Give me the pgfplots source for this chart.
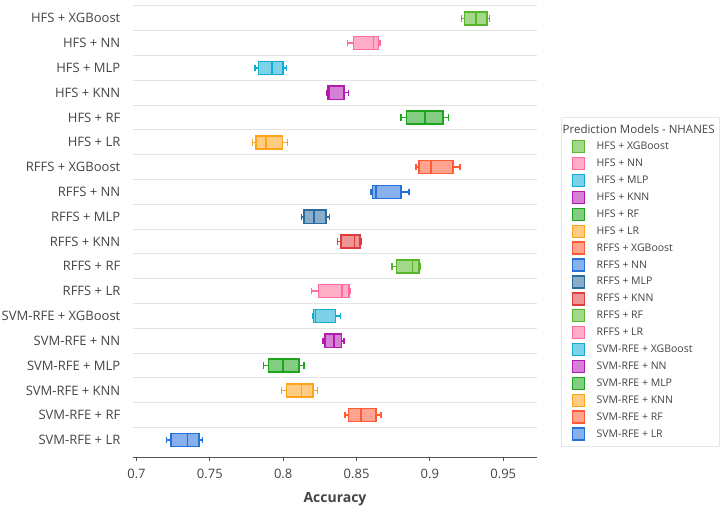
\documentclass[border=0pt]{standalone}
\usepackage{pgfplots}
\pgfplotsset{compat=1.18}
\usepgfplotslibrary{statistics}
\usepackage{fontspec}
\setmainfont{Open Sans}
\definecolor{txt}{HTML}{444444}
\definecolor{axisc}{HTML}{555555}
\definecolor{gridc}{HTML}{E3E3E3}
\definecolor{legc}{HTML}{E6E6E6}
\definecolor{c1}{HTML}{57B728}
\definecolor{c2}{HTML}{FF6B9A}
\definecolor{c3}{HTML}{13ADD4}
\definecolor{c4}{HTML}{B21AB0}
\definecolor{c5}{HTML}{1DA51D}
\definecolor{c6}{HTML}{FFA31A}
\definecolor{c7}{HTML}{FF5A33}
\definecolor{c8}{HTML}{2670DA}
\definecolor{c9}{HTML}{2A6C9C}
\definecolor{c10}{HTML}{DE3D3F}
\pgfplotsset{
  bx/.style={draw=#1, fill=#1!55, line width=1.5pt, forget plot, solid},
  sq/.style={legend image code/.code={\path (-6pt,0pt); \draw[line width=1.4pt, draw=#1, fill=#1!55] (0pt,-6pt) rectangle (12pt,6pt);}},
}
\begin{document}
\begin{tikzpicture}
\path[use as bounding box] (-133pt,-52.3pt) rectangle (591pt,457.7pt);
\begin{axis}[
  at={(0pt,0pt)}, anchor=south west,
  scale only axis, width=404pt, height=457.7pt,
  xmin=0.6976, xmax=0.9730, ymin=-0.715, ymax=17.74,
  axis x line*=bottom, axis y line*=left,
  y axis line style={draw=none},
  x axis line style={draw=axisc, line width=1pt},
  /pgf/number format/assume math mode=true,
  xtick={0.7,0.75,0.8,0.85,0.9,0.95},
  xticklabels={0.7,0.75,0.8,0.85,0.9,0.95},
  tick align=outside,
  xtick style={draw=axisc, line width=1pt},
  major tick length=3.5pt,
  ytick={0,...,17},
  yticklabels={SVM-RFE + LR, SVM-RFE + RF, SVM-RFE + KNN, SVM-RFE + MLP, SVM-RFE + NN, SVM-RFE + XGBoost, RFFS + LR, RFFS + RF, RFFS + KNN, RFFS + MLP, RFFS + NN, RFFS + XGBoost, HFS + LR, HFS + RF, HFS + KNN, HFS + MLP, HFS + NN, HFS + XGBoost},
  ytick style={draw=none},
  minor ytick={0.5,1.5,...,17.5},
  minor tick length=0pt,
  yminorgrids=true,
  minor grid style={draw=gridc, line width=1pt},
  yticklabel style={font=\fontsize{13pt}{15pt}\selectfont, text=txt, anchor=east, inner sep=0pt, xshift=-9pt},
  xticklabel style={font=\fontsize{13pt}{15pt}\selectfont, text=txt, anchor=north, inner sep=0pt, yshift=-7.5pt},
  xlabel={\textbf{Accuracy}},
  xlabel style={font=\fontsize{14pt}{16pt}\selectfont, text=txt, at={(axis description cs:0.5,0)}, anchor=center, yshift=-41.6pt},
  boxplot/draw direction=x,
  boxplot/box extend=0.525,
  boxplot/whisker extend=0.26,
  legend cell align=left,
  legend style={at={(axis description cs:1.05941,0.74503)}, anchor=north west,
    draw=legc, line width=1pt, fill=white, inner xsep=4.7pt, inner ysep=4.2pt,
    row sep=0pt, column sep=11.3pt,
    font=\fontsize{10.5pt}{12pt}\selectfont, text=txt,
    nodes={inner sep=0pt, minimum height=16.9pt}},
]
\addplot[bx=c1, boxplot prepared={lower whisker=0.9217, lower quartile=0.9235, median=0.9313, upper quartile=0.9388, upper whisker=0.9405, draw position=17}] coordinates {};
\addplot[bx=c2, boxplot prepared={lower whisker=0.8437, lower quartile=0.8478, median=0.8615, upper quartile=0.8651, upper whisker=0.8660, draw position=16}] coordinates {};
\addplot[bx=c3, boxplot prepared={lower whisker=0.7808, lower quartile=0.7833, median=0.7922, upper quartile=0.7999, upper whisker=0.8021, draw position=15}] coordinates {};
\addplot[bx=c4, boxplot prepared={lower whisker=0.8297, lower quartile=0.8304, median=0.8312, upper quartile=0.8413, upper whisker=0.8444, draw position=14}] coordinates {};
\addplot[bx=c5, boxplot prepared={lower whisker=0.8803, lower quartile=0.8840, median=0.8965, upper quartile=0.9088, upper whisker=0.9126, draw position=13}] coordinates {};
\addplot[bx=c6, boxplot prepared={lower whisker=0.7792, lower quartile=0.7813, median=0.7883, upper quartile=0.7994, upper whisker=0.8028, draw position=12}] coordinates {};
\addplot[bx=c7, boxplot prepared={lower whisker=0.8904, lower quartile=0.8926, median=0.9006, upper quartile=0.9156, upper whisker=0.9206, draw position=11}] coordinates {};
\addplot[bx=c8, boxplot prepared={lower whisker=0.8599, lower quartile=0.8610, median=0.8633, upper quartile=0.8803, upper whisker=0.8858, draw position=10}] coordinates {};
\addplot[bx=c9, boxplot prepared={lower whisker=0.8126, lower quartile=0.8142, median=0.8210, upper quartile=0.8290, upper whisker=0.8315, draw position=9}] coordinates {};
\addplot[bx=c10, boxplot prepared={lower whisker=0.8369, lower quartile=0.8394, median=0.8485, upper quartile=0.8524, upper whisker=0.8535, draw position=8}] coordinates {};
\addplot[bx=c1, boxplot prepared={lower whisker=0.8742, lower quartile=0.8771, median=0.8880, upper quartile=0.8924, upper whisker=0.8935, draw position=7}] coordinates {};
\addplot[bx=c2, boxplot prepared={lower whisker=0.8192, lower quartile=0.8240, median=0.8401, upper quartile=0.8449, upper whisker=0.8460, draw position=6}] coordinates {};
\addplot[bx=c3, boxplot prepared={lower whisker=0.8201, lower quartile=0.8208, median=0.8219, upper quartile=0.8355, upper whisker=0.8390, draw position=5}] coordinates {};
\addplot[bx=c4, boxplot prepared={lower whisker=0.8272, lower quartile=0.8285, median=0.8345, upper quartile=0.8396, upper whisker=0.8413, draw position=4}] coordinates {};
\addplot[bx=c5, boxplot prepared={lower whisker=0.7867, lower quartile=0.7899, median=0.7999, upper quartile=0.8108, upper whisker=0.8142, draw position=3}] coordinates {};
\addplot[bx=c6, boxplot prepared={lower whisker=0.7990, lower quartile=0.8021, median=0.8124, upper quartile=0.8203, upper whisker=0.8233, draw position=2}] coordinates {};
\addplot[bx=c7, boxplot prepared={lower whisker=0.8422, lower quartile=0.8444, median=0.8529, upper quartile=0.8633, upper whisker=0.8665, draw position=1}] coordinates {};
\addplot[bx=c8, boxplot prepared={lower whisker=0.7206, lower quartile=0.7235, median=0.7349, upper quartile=0.7426, upper whisker=0.7449, draw position=0}] coordinates {};
\addlegendimage{empty legend}
\addlegendentry{\hspace*{-34pt}\fontsize{11.5pt}{13pt}\selectfont Prediction Models - NHANES}
\addlegendimage{sq=c1}\addlegendentry{HFS + XGBoost}
\addlegendimage{sq=c2}\addlegendentry{HFS + NN}
\addlegendimage{sq=c3}\addlegendentry{HFS + MLP}
\addlegendimage{sq=c4}\addlegendentry{HFS + KNN}
\addlegendimage{sq=c5}\addlegendentry{HFS + RF}
\addlegendimage{sq=c6}\addlegendentry{HFS + LR}
\addlegendimage{sq=c7}\addlegendentry{RFFS + XGBoost}
\addlegendimage{sq=c8}\addlegendentry{RFFS + NN}
\addlegendimage{sq=c9}\addlegendentry{RFFS + MLP}
\addlegendimage{sq=c10}\addlegendentry{RFFS + KNN}
\addlegendimage{sq=c1}\addlegendentry{RFFS + RF}
\addlegendimage{sq=c2}\addlegendentry{RFFS + LR}
\addlegendimage{sq=c3}\addlegendentry{SVM-RFE + XGBoost}
\addlegendimage{sq=c4}\addlegendentry{SVM-RFE + NN}
\addlegendimage{sq=c5}\addlegendentry{SVM-RFE + MLP}
\addlegendimage{sq=c6}\addlegendentry{SVM-RFE + KNN}
\addlegendimage{sq=c7}\addlegendentry{SVM-RFE + RF}
\addlegendimage{sq=c8}\addlegendentry{SVM-RFE + LR}
\end{axis}
\end{tikzpicture}
\end{document}
